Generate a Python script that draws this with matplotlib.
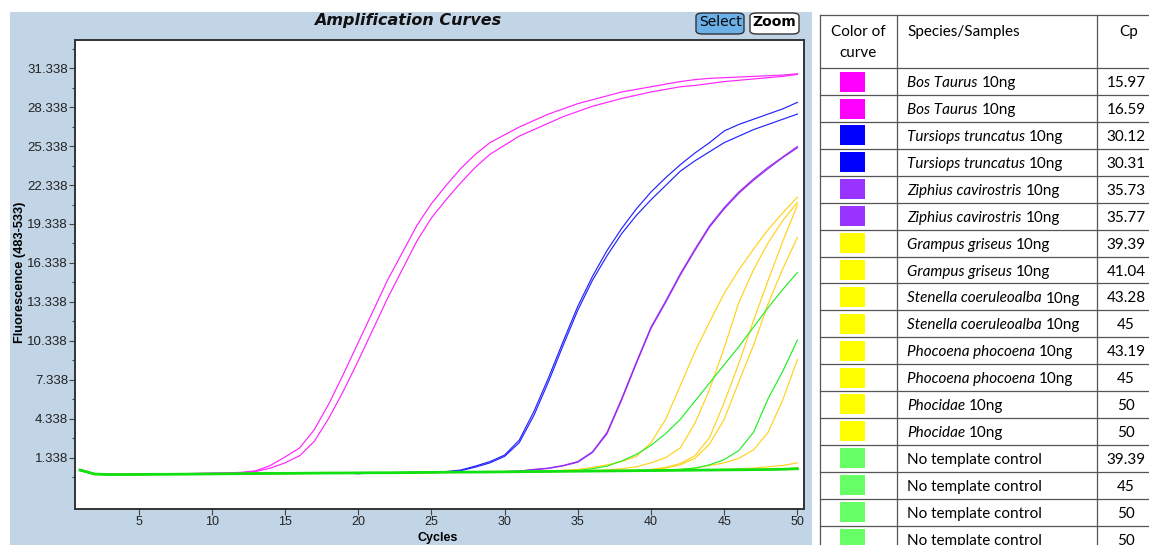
import matplotlib
matplotlib.use("Agg")
import matplotlib.pyplot as plt
from matplotlib.patches import Rectangle, FancyBboxPatch
from matplotlib.lines import Line2D

W, H = 1149, 545

cycles = list(range(1, 51))

# fluorescence per cycle
bos_1 = [0.45, 0.12, 0.08, 0.08, 0.09, 0.10, 0.11, 0.12, 0.14, 0.16,
         0.18, 0.22, 0.34, 0.75, 1.40, 2.10, 3.50, 5.50, 7.80, 10.2,
         12.6, 15.0, 17.1, 19.2, 20.9, 22.3, 23.6, 24.7, 25.6, 26.2,
         26.8, 27.3, 27.8, 28.2, 28.6, 28.9, 29.2, 29.5, 29.7, 29.9,
         30.1, 30.3, 30.45, 30.55, 30.6, 30.65, 30.7, 30.75, 30.8, 30.9]
bos_2 = [0.42, 0.10, 0.06, 0.07, 0.08, 0.09, 0.10, 0.11, 0.13, 0.15,
         0.16, 0.19, 0.28, 0.55, 0.95, 1.50, 2.60, 4.40, 6.50, 8.80,
         11.2, 13.6, 15.8, 18.0, 19.8, 21.2, 22.5, 23.7, 24.7, 25.4,
         26.1, 26.6, 27.1, 27.6, 28.0, 28.4, 28.7, 29.0, 29.25, 29.5,
         29.7, 29.9, 30.0, 30.15, 30.3, 30.4, 30.5, 30.6, 30.7, 30.85]
tursiops_1 = [0.38, 0.08, 0.04, 0.05, 0.05, 0.06, 0.07, 0.08, 0.09, 0.10,
              0.11, 0.12, 0.13, 0.13, 0.14, 0.15, 0.15, 0.16, 0.17, 0.12,
              0.18, 0.19, 0.20, 0.21, 0.22, 0.28, 0.40, 0.70, 1.05, 1.55,
              2.70, 4.90, 7.50, 10.3, 13.0, 15.3, 17.3, 19.0, 20.5, 21.8,
              22.9, 23.9, 24.8, 25.6, 26.5, 27.0, 27.4, 27.8, 28.2, 28.7]
tursiops_2 = [0.36, 0.07, 0.04, 0.04, 0.05, 0.06, 0.07, 0.08, 0.09, 0.10,
              0.11, 0.11, 0.12, 0.13, 0.14, 0.14, 0.15, 0.16, 0.16, 0.13,
              0.17, 0.18, 0.19, 0.20, 0.21, 0.25, 0.35, 0.62, 0.95, 1.45,
              2.50, 4.60, 7.20, 10.0, 12.7, 15.0, 16.9, 18.6, 20.0, 21.2,
              22.3, 23.4, 24.2, 24.9, 25.6, 26.1, 26.6, 27.0, 27.4, 27.8]
ziphius_1 = [0.40, 0.09, 0.05, 0.05, 0.06, 0.07, 0.07, 0.08, 0.09, 0.10,
             0.11, 0.12, 0.13, 0.14, 0.14, 0.15, 0.16, 0.16, 0.17, 0.18,
             0.18, 0.19, 0.20, 0.20, 0.21, 0.22, 0.23, 0.24, 0.25, 0.28,
             0.32, 0.45, 0.55, 0.75, 1.05, 1.80, 3.30, 5.90, 8.70, 11.4,
             13.4, 15.5, 17.4, 19.2, 20.6, 21.8, 22.8, 23.7, 24.5, 25.3]
ziphius_2 = [0.39, 0.08, 0.05, 0.05, 0.06, 0.06, 0.07, 0.08, 0.09, 0.10,
             0.11, 0.12, 0.12, 0.13, 0.14, 0.15, 0.15, 0.16, 0.17, 0.17,
             0.18, 0.19, 0.19, 0.20, 0.21, 0.22, 0.23, 0.24, 0.25, 0.27,
             0.31, 0.42, 0.52, 0.72, 1.00, 1.75, 3.20, 5.80, 8.60, 11.3,
             13.3, 15.4, 17.3, 19.1, 20.5, 21.7, 22.7, 23.6, 24.45, 25.2]
grampus_1 = [0.42, 0.10, 0.06, 0.06, 0.06, 0.07, 0.08, 0.09, 0.10, 0.11,
             0.12, 0.13, 0.14, 0.14, 0.15, 0.16, 0.16, 0.17, 0.18, 0.18,
             0.19, 0.20, 0.20, 0.21, 0.22, 0.23, 0.24, 0.25, 0.26, 0.27,
             0.28, 0.30, 0.33, 0.38, 0.45, 0.60, 0.80, 1.05, 1.45, 2.50,
             4.30, 6.90, 9.50, 11.8, 14.0, 15.8, 17.4, 18.9, 20.2, 21.4]
grampus_2 = [0.41, 0.09, 0.05, 0.05, 0.06, 0.06, 0.07, 0.08, 0.09, 0.10,
             0.11, 0.12, 0.13, 0.13, 0.14, 0.15, 0.16, 0.16, 0.17, 0.17,
             0.18, 0.19, 0.20, 0.20, 0.21, 0.22, 0.23, 0.24, 0.25, 0.26,
             0.27, 0.28, 0.29, 0.30, 0.32, 0.36, 0.42, 0.50, 0.65, 0.95,
             1.35, 2.10, 4.00, 6.60, 9.80, 13.3, 15.8, 17.9, 19.6, 21.0]
phocoena_1 = [0.40, 0.10, 0.06, 0.05, 0.06, 0.07, 0.07, 0.08, 0.09, 0.10,
              0.11, 0.12, 0.12, 0.13, 0.14, 0.15, 0.15, 0.16, 0.17, 0.18,
              0.18, 0.19, 0.19, 0.20, 0.21, 0.22, 0.23, 0.24, 0.25, 0.26,
              0.27, 0.28, 0.29, 0.30, 0.31, 0.32, 0.34, 0.36, 0.40, 0.45,
              0.60, 0.90, 1.50, 2.90, 5.60, 8.60, 11.9, 15.0, 18.0, 20.8]
stenella_1 = [0.39, 0.09, 0.05, 0.05, 0.05, 0.06, 0.07, 0.08, 0.09, 0.10,
              0.10, 0.11, 0.12, 0.13, 0.14, 0.14, 0.15, 0.16, 0.17, 0.17,
              0.18, 0.19, 0.20, 0.21, 0.21, 0.22, 0.23, 0.24, 0.25, 0.26,
              0.27, 0.28, 0.29, 0.30, 0.31, 0.32, 0.33, 0.34, 0.36, 0.38,
              0.55, 0.80, 1.30, 2.40, 4.30, 7.20, 10.0, 13.2, 15.9, 18.3]
stenella_2 = [0.41, 0.10, 0.06, 0.06, 0.06, 0.07, 0.08, 0.08, 0.09, 0.10,
              0.11, 0.12, 0.13, 0.14, 0.14, 0.15, 0.16, 0.17, 0.17, 0.18,
              0.19, 0.19, 0.20, 0.21, 0.22, 0.22, 0.23, 0.24, 0.25, 0.26,
              0.27, 0.28, 0.29, 0.30, 0.31, 0.32, 0.33, 0.34, 0.36, 0.38,
              0.40, 0.45, 0.55, 0.75, 0.95, 1.30, 1.95, 3.30, 5.80, 8.90]
phocoena_2 = [0.40, 0.09, 0.05, 0.06, 0.06, 0.07, 0.07, 0.08, 0.09, 0.10,
              0.11, 0.12, 0.12, 0.13, 0.14, 0.15, 0.16, 0.16, 0.17, 0.18,
              0.18, 0.19, 0.20, 0.21, 0.21, 0.22, 0.23, 0.24, 0.25, 0.26,
              0.27, 0.28, 0.29, 0.30, 0.31, 0.32, 0.33, 0.34, 0.35, 0.36,
              0.37, 0.38, 0.40, 0.42, 0.45, 0.50, 0.55, 0.65, 0.75, 0.95]
phocidae_1 = [0.38, 0.08, 0.04, 0.05, 0.05, 0.06, 0.07, 0.07, 0.08, 0.09,
              0.10, 0.11, 0.12, 0.12, 0.13, 0.14, 0.15, 0.15, 0.16, 0.17,
              0.17, 0.18, 0.19, 0.20, 0.20, 0.21, 0.22, 0.23, 0.24, 0.25,
              0.26, 0.27, 0.28, 0.29, 0.30, 0.31, 0.32, 0.33, 0.34, 0.35,
              0.36, 0.37, 0.38, 0.39, 0.40, 0.41, 0.42, 0.43, 0.45, 0.60]
phocidae_2 = [0.37, 0.07, 0.03, 0.04, 0.04, 0.05, 0.06, 0.07, 0.08, 0.09,
              0.10, 0.10, 0.11, 0.12, 0.13, 0.13, 0.14, 0.15, 0.16, 0.16,
              0.17, 0.18, 0.19, 0.19, 0.20, 0.21, 0.22, 0.23, 0.24, 0.25,
              0.26, 0.27, 0.28, 0.29, 0.30, 0.31, 0.32, 0.33, 0.34, 0.35,
              0.36, 0.37, 0.38, 0.39, 0.40, 0.41, 0.42, 0.43, 0.44, 0.50]
ntc_1 = [0.42, 0.10, 0.06, 0.06, 0.07, 0.07, 0.08, 0.09, 0.10, 0.11,
         0.12, 0.13, 0.14, 0.15, 0.15, 0.16, 0.17, 0.18, 0.18, 0.19,
         0.20, 0.20, 0.21, 0.22, 0.23, 0.24, 0.25, 0.26, 0.27, 0.28,
         0.29, 0.30, 0.31, 0.32, 0.35, 0.50, 0.70, 1.10, 1.60, 2.30,
         3.20, 4.30, 5.70, 7.10, 8.50, 9.90, 11.4, 12.9, 14.3, 15.6]
ntc_2 = [0.41, 0.09, 0.06, 0.06, 0.06, 0.07, 0.08, 0.09, 0.10, 0.11,
         0.12, 0.13, 0.13, 0.14, 0.15, 0.16, 0.17, 0.17, 0.18, 0.19,
         0.20, 0.20, 0.21, 0.22, 0.23, 0.24, 0.25, 0.26, 0.27, 0.28,
         0.29, 0.30, 0.31, 0.32, 0.33, 0.34, 0.35, 0.36, 0.37, 0.38,
         0.40, 0.45, 0.55, 0.80, 1.20, 1.90, 3.30, 5.90, 8.00, 10.4]
ntc_3 = [0.40, 0.09, 0.05, 0.05, 0.06, 0.07, 0.07, 0.08, 0.09, 0.10,
         0.11, 0.12, 0.13, 0.14, 0.14, 0.15, 0.16, 0.17, 0.17, 0.18,
         0.19, 0.19, 0.20, 0.21, 0.22, 0.23, 0.24, 0.24, 0.25, 0.26,
         0.27, 0.28, 0.29, 0.30, 0.31, 0.32, 0.33, 0.34, 0.35, 0.36,
         0.37, 0.38, 0.39, 0.40, 0.41, 0.42, 0.43, 0.44, 0.46, 0.50]
ntc_4 = [0.39, 0.08, 0.05, 0.05, 0.05, 0.06, 0.07, 0.08, 0.08, 0.09,
         0.10, 0.11, 0.12, 0.13, 0.14, 0.14, 0.15, 0.16, 0.17, 0.17,
         0.18, 0.19, 0.20, 0.20, 0.21, 0.22, 0.23, 0.24, 0.25, 0.26,
         0.27, 0.28, 0.29, 0.30, 0.31, 0.32, 0.33, 0.34, 0.35, 0.36,
         0.37, 0.38, 0.39, 0.40, 0.41, 0.42, 0.43, 0.44, 0.45, 0.48]

magenta_curves = [bos_1, bos_2]
blue_curves = [tursiops_1, tursiops_2]
purple_curves = [ziphius_1, ziphius_2]
yellow_curves = [grampus_1, grampus_2, stenella_1, stenella_2,
                 phocoena_1, phocoena_2, phocidae_1, phocidae_2]
green_curves = [ntc_1, ntc_2, ntc_3, ntc_4]

y_ticks = [1.338, 4.338, 7.338, 10.338, 13.338, 16.338,
           19.338, 22.338, 25.338, 28.338, 31.338]
x_ticks = [5, 10, 15, 20, 25, 30, 35, 40, 45, 50]

# table
swatch_colors = ['#ff00ff', '#ff00ff', '#0000ff', '#0000ff', '#9933ff', '#9933ff',
                 '#ffff00', '#ffff00', '#ffff00', '#ffff00', '#ffff00', '#ffff00',
                 '#ffff00', '#ffff00', '#66ff66', '#66ff66', '#66ff66', '#66ff66']
sample_names = ['Bos Taurus', 'Bos Taurus', 'Tursiops truncatus', 'Tursiops truncatus',
                'Ziphius cavirostris', 'Ziphius cavirostris', 'Grampus griseus',
                'Grampus griseus', 'Stenella coeruleoalba', 'Stenella coeruleoalba',
                'Phocoena phocoena', 'Phocoena phocoena', 'Phocidae', 'Phocidae',
                'No template control', 'No template control', 'No template control',
                'No template control']
name_italic = [True] * 14 + [False] * 4
cp_values = ['15.97', '16.59', '30.12', '30.31', '35.73', '35.77', '39.39', '41.04',
             '43.28', '45', '43.19', '45', '50', '50', '39.39', '45', '50', '50']


def fx(px):
    return px / W


def fy(py):
    return 1 - py / H


fig = plt.figure(figsize=(W / 100, H / 100), dpi=100)
fig.patch.set_facecolor('white')

# light blue panel behind the plot
fig.patches.append(Rectangle((fx(10), 0), fx(812) - fx(10), fy(12),
                             transform=fig.transFigure, facecolor='#c2d5e6',
                             edgecolor='none', zorder=-10))

ax = fig.add_axes([fx(75), fy(509), fx(804) - fx(75), fy(40) - fy(509)])
ax.set_zorder(2)
ax.set_facecolor('white')

for c in magenta_curves:
    ax.plot(cycles, c, color='#ff22ff', lw=0.85)
for c in blue_curves:
    ax.plot(cycles, c, color='#2222ff', lw=0.85)
for c in purple_curves:
    ax.plot(cycles, c, color='#9a2cf0', lw=0.85)
for c in yellow_curves:
    ax.plot(cycles, c, color='#ffd21a', lw=0.85)
for c in green_curves:
    ax.plot(cycles, c, color='#22ee22', lw=0.85)
ax.plot(cycles, ntc_3, color='#11e011', lw=2.0)

ax.set_xlim(0.66, 50.45)
ax.set_ylim(-2.6, 33.5)
ax.set_xticks(x_ticks)
ax.set_yticks(y_ticks)
ax.set_yticklabels(['%.3f' % v for v in y_ticks])
ax.set_yticks([v - 1.5 for v in y_ticks] + [32.838], minor=True)
ax.tick_params(axis='both', which='major', direction='out', length=4, width=0.8,
               color='#444444', labelcolor='#222222', pad=1)
ax.tick_params(axis='y', which='minor', direction='out', length=2.5, width=0.8,
               color='#444444')
for lab in ax.get_yticklabels():
    lab.set_fontfamily('Liberation Sans')
    lab.set_fontsize(9.5)
for lab in ax.get_xticklabels():
    lab.set_fontfamily('Liberation Sans')
    lab.set_fontsize(9)
for s in ax.spines.values():
    s.set_color('#333333')
    s.set_linewidth(1.4)

fig.text(fx(408), fy(20), 'Amplification Curves', ha='center', va='center',
         fontsize=11.5, fontweight='bold', fontstyle='italic', color='#111111')
fig.text(fx(20), fy(272), 'Fluorescence (483-533)', rotation=90, ha='center',
         va='center', fontsize=9.2, fontweight='bold', family='Liberation Sans')
fig.text(fx(438), fy(538), 'Cycles', ha='center', va='center', fontsize=9,
         fontweight='bold', family='Liberation Sans')

# Select / Zoom buttons
fig.patches.append(FancyBboxPatch((fx(696), fy(34)), fx(744) - fx(696), fy(13) - fy(34),
                                  boxstyle='round,pad=0,rounding_size=0.006',
                                  transform=fig.transFigure, facecolor='#6cb0e8',
                                  edgecolor='#333333', lw=1.0))
fig.text(fx(720), fy(22.5), 'Select', ha='center', va='center', fontsize=10,
         family='DejaVu Sans')
fig.patches.append(FancyBboxPatch((fx(750), fy(34)), fx(799) - fx(750), fy(13) - fy(34),
                                  boxstyle='round,pad=0,rounding_size=0.006',
                                  transform=fig.transFigure, facecolor='white',
                                  edgecolor='#333333', lw=1.0))
fig.text(fx(774.5), fy(22.5), 'Zoom', ha='center', va='center', fontsize=10,
         fontweight='bold', family='DejaVu Sans')

# table on the right
tab_font = 'Lato'
tab_size = 11
row_top = 68.3
row_h = 26.9
col_x = [820, 897, 1097]
line_kw = dict(transform=fig.transFigure, color='#555555', lw=0.9)
for x in col_x:
    fig.lines.append(Line2D([fx(x), fx(x)], [fy(15), 0], **line_kw))
fig.lines.append(Line2D([fx(820), 1], [fy(15), fy(15)], **line_kw))
for i in range(len(sample_names)):
    y = row_top + i * row_h
    fig.lines.append(Line2D([fx(820), 1], [fy(y), fy(y)], **line_kw))

fig.text(fx(858), fy(32), 'Color of', ha='center', va='center', fontsize=tab_size, family=tab_font)
fig.text(fx(858), fy(53), 'curve', ha='center', va='center', fontsize=tab_size, family=tab_font)
fig.text(fx(907), fy(32), 'Species/Samples', ha='left', va='center', fontsize=tab_size,
         family=tab_font)
fig.text(fx(1129), fy(32), 'Cp', ha='center', va='center', fontsize=tab_size, family=tab_font)

renderer = fig.canvas.get_renderer()
for i, name in enumerate(sample_names):
    top = row_top + i * row_h
    fig.patches.append(Rectangle((fx(840), fy(top + 23.4)), fx(865) - fx(840), 20 / H,
                                 transform=fig.transFigure, facecolor=swatch_colors[i],
                                 edgecolor='none'))
    ty = fy(top + 15)
    t = fig.text(fx(907), ty, name, ha='left', va='center', fontsize=tab_size,
                 family=tab_font, fontstyle='italic' if name_italic[i] else 'normal')
    if name_italic[i]:
        bb = t.get_window_extent(renderer)
        fig.text((bb.x1 + 4) / W, ty, '10ng', ha='left', va='center', fontsize=tab_size,
                 family=tab_font)
    fig.text(fx(1126), ty, cp_values[i], ha='center', va='center', fontsize=tab_size,
             family=tab_font)

fig.savefig('out.png', dpi=100)
